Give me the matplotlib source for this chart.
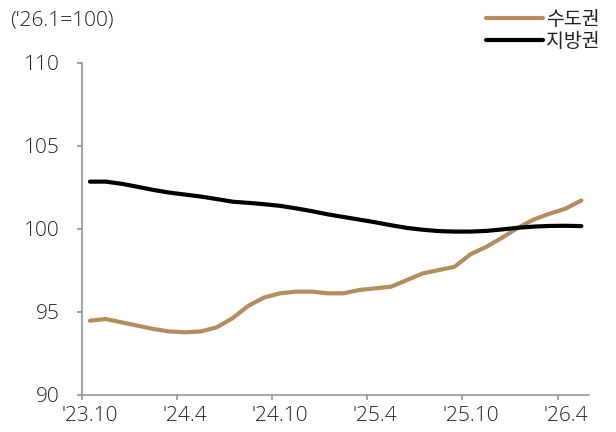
import matplotlib
matplotlib.use("Agg")
import matplotlib.pyplot as plt
import numpy as np

plt.rcParams['font.family'] = ['Noto Sans CJK KR', 'DejaVu Sans']

# Monthly index, '23.10 ~ '26.5 ('26.1 = 100)
months = ["'23.10", "'23.11", "'23.12", "'24.1", "'24.2", "'24.3", "'24.4", "'24.5",
          "'24.6", "'24.7", "'24.8", "'24.9", "'24.10", "'24.11", "'24.12", "'25.1",
          "'25.2", "'25.3", "'25.4", "'25.5", "'25.6", "'25.7", "'25.8", "'25.9",
          "'25.10", "'25.11", "'25.12", "'26.1", "'26.2", "'26.3", "'26.4", "'26.5"]
capital = [94.45, 94.55, 94.35, 94.15, 93.95, 93.8, 93.75, 93.8, 94.05, 94.6,
           95.35, 95.85, 96.1, 96.2, 96.2, 96.1, 96.1, 96.3, 96.4, 96.5,
           96.9, 97.3, 97.5, 97.7, 98.45, 98.9, 99.45, 100.05, 100.55, 100.9,
           101.2, 101.7]
regions = [102.83, 102.83, 102.7, 102.52, 102.33, 102.17, 102.05, 101.93, 101.78, 101.62,
           101.55, 101.47, 101.37, 101.22, 101.05, 100.86, 100.7, 100.54, 100.38, 100.2,
           100.04, 99.93, 99.85, 99.82, 99.82, 99.86, 99.95, 100.05, 100.12, 100.16,
           100.17, 100.15]
series_names = ["수도권", "지방권"]
y_ticks = [90, 95, 100, 105, 110]
unit_label = "('26.1=100)"

text_color = "#222222"
axis_color = "#8c8c8c"
brown = "#b38d62"
latin = ['Open Sans', 'Noto Sans CJK KR', 'DejaVu Sans']

fig = plt.figure(figsize=(6.16, 4.32), dpi=100)
ax = fig.add_axes([0.1331, 0.0868, 0.8236, 0.7681])

x = np.arange(len(months)) + 0.5
l1, = ax.plot(x, capital, color=brown, lw=3.0, solid_capstyle='round',
              solid_joinstyle='round', label=series_names[0])
l2, = ax.plot(x, regions, color="black", lw=3.0, solid_capstyle='round',
              solid_joinstyle='round', label=series_names[1])

ax.set_xlim(0, len(months))
ax.set_ylim(90, 110)
ax.set_yticks(y_ticks)
ax.set_yticklabels([str(v) for v in y_ticks])

# tick marks at category boundaries, labels centred on the category
label_idx = list(range(0, len(months), 6))
ax.set_xticks(label_idx)
ax.set_xticklabels([""] * len(label_idx))
ax.set_xticks([i + 0.5 for i in label_idx], minor=True)
ax.set_xticklabels([months[i] for i in label_idx], minor=True)
ax.tick_params(axis='x', which='minor', length=0, pad=8.5, labelsize=15,
               labelcolor=text_color)
ax.tick_params(axis='x', which='major', length=3.5, width=1.1, color=axis_color)
ax.tick_params(axis='y', length=3.6, width=1.1, color=axis_color, pad=12.5,
               labelsize=15, labelcolor=text_color)

for side in ("top", "right"):
    ax.spines[side].set_visible(False)
for side in ("left", "bottom"):
    ax.spines[side].set_color(axis_color)
    ax.spines[side].set_linewidth(1.1)

for lab in ax.get_xticklabels(minor=True) + ax.get_yticklabels():
    lab.set_family(latin)
    lab.set_fontweight('light')

fig.text(0.016, 0.953, unit_label, fontsize=15, color=text_color,
         va='center', ha='left', fontweight='light', family=latin)

leg = fig.legend(handles=[l1, l2], loc='upper right', bbox_to_anchor=(0.995, 1.01),
                 frameon=False, fontsize=14, handlelength=2.9, handletextpad=0.15,
                 labelspacing=0.05, borderpad=0.2)
for t in leg.get_texts():
    t.set_color(text_color)
    t.set_fontweight('light')

fig.savefig("out.png", dpi=100)
